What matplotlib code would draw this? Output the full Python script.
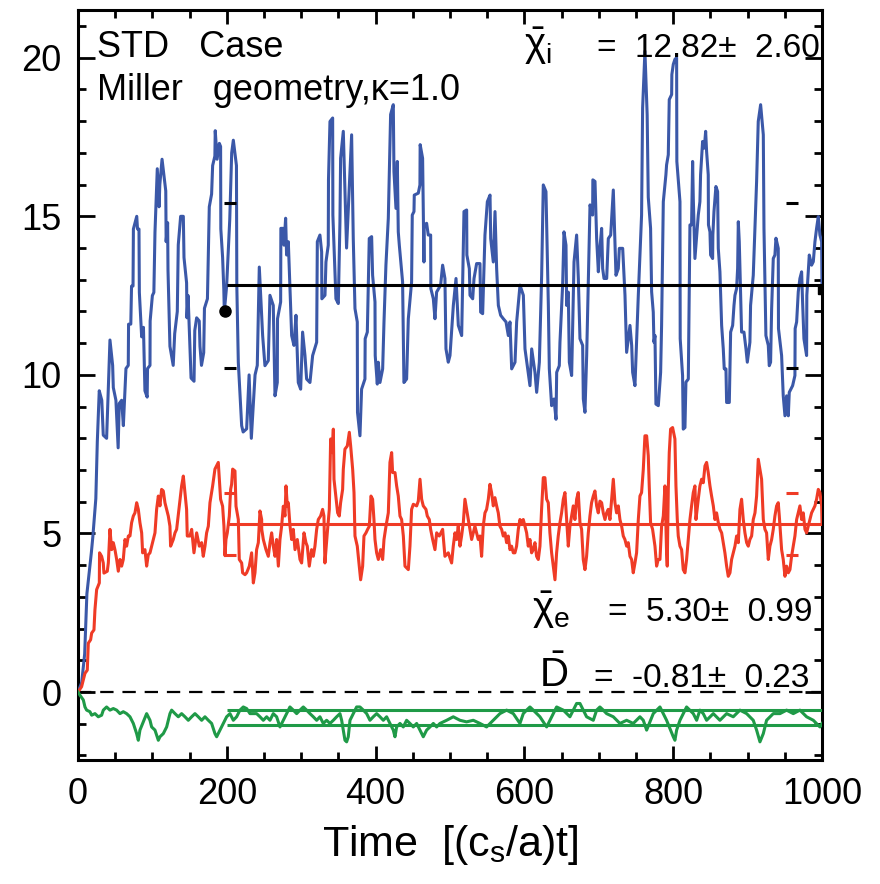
import matplotlib
matplotlib.use("Agg")
import matplotlib.pyplot as plt
from matplotlib.ticker import MultipleLocator
import numpy as np

plt.rcParams['font.family'] = ['Liberation Sans', 'DejaVu Sans']
plt.rcParams['mathtext.fontset'] = 'custom'
plt.rcParams['mathtext.rm'] = 'Liberation Sans'
plt.rcParams['mathtext.it'] = 'Liberation Sans'

# ion heat diffusivity chi_i
chi_i_t = [0, 5, 9, 12, 18, 20, 24, 26, 28.6, 32, 34, 38.5, 43, 46.6, 47.5, 51, 54, 55.5, 58.7, 61,
           64.5, 67.6, 68, 71, 72, 74, 74.5, 79, 80, 82, 82.5, 85.6, 88, 90, 93, 93.5, 96.8, 97, 100, 102,
           103.5, 106.6, 109, 110, 113, 118, 118.5, 120.5, 121, 123.6, 128, 130, 133.5, 134.8, 138, 141.6,
           142.5, 146, 146.5, 148, 152, 156, 157, 159.5, 163, 164, 166, 169, 170, 174, 176.5, 179.6, 181,
           184, 184.5, 187, 190, 191.7, 192, 194.4, 196, 196.7, 199.8, 204, 206.6, 208.8, 213, 213.5,
           215.5, 220, 222, 226.7, 230, 233, 238, 241, 243.7, 248.2, 251.3, 255.8, 258.0, 262.5, 264.8,
           267.9, 268.2, 272.4, 272.7, 276.0, 276.9, 279.1, 280.4, 282.7, 287.2, 290.3, 293.0, 296.1,
           299.3, 301.9, 305.1, 307.3, 311.8, 315.4, 320.8, 321.7, 325.2, 327.5, 327.8, 332.0, 333.3,
           336.4, 336.7, 338.7, 342.3, 342.6, 346.7, 349.9, 352.1, 353.0, 356.6, 361, 367.8, 370.0, 372.3,
           375.4, 375.7, 379.0, 381.2, 385.7, 386.0, 388.9, 391.5, 394.7, 396.0, 399.2, 399.5, 402.3,
           403.6, 405.9, 409.5, 411.3, 413.9, 417.1, 420.2, 423.8, 424.7, 427.4, 429.2, 430.5, 431.9,
           436.3, 438.1, 441.7, 444.0, 448.4, 449.3, 451.6, 452.0, 457.4, 459.6, 459.9, 463.2, 465.0,
           465.3, 468.6, 470.8, 474.0, 474.3, 477.6, 479.8, 482.0, 487.4, 490.1, 493.2, 494.6, 497.7,
           500.0, 504.5, 508.1, 511.2, 515.7, 518.8, 522.4, 522.7, 526.0, 526.9, 530.5, 532.3, 535.8,
           540.3, 541.2, 543.9, 547.0, 550.2, 553.8, 554.7, 558.2, 560.5, 562.7, 565.0, 568.1, 571.7,
           575.3, 578.4, 580.6, 582.9, 587.4, 589.6, 594.1, 598.6, 600.8, 603.9, 607.5, 609.8, 614.2,
           616.5, 620.1, 623.2, 625.4, 629.0, 632.2, 633.5, 636.6, 639.8, 642.5, 643.4, 646.9, 647.8,
           651.4, 653.2, 655.9, 656.8, 659.0, 660.4, 663.5, 666.7, 670.2, 672.5, 674.7, 678.3, 679.2,
           681.4, 683.7, 688.2, 691.7, 692.0, 694.9, 697.1, 699.4, 700.7, 703.8, 705.2, 707.0, 710.6,
           712.8, 716.0, 719.5, 723.1, 726.2, 727.6, 732.1, 735.2, 737.4, 741.9, 744.2, 745.5, 748.6,
           750.9, 753.1, 757.5, 758.9, 762.0, 765.0, 766.5, 769.6, 771.0, 773.2, 774.1, 775.5, 776.8,
           780.0, 783.1, 784.4, 786.7, 790.2, 791.1, 793.4, 794.7, 797.9, 798.2, 800.1, 802.3, 804.6,
           804.9, 809.1, 809.4, 812.6, 813.5, 815.8, 817.1, 820.3, 821.6, 822.5, 824.7, 826.1, 827.0,
           829.2, 830.6, 833.7, 835.9, 836.8, 839.5, 841.8, 843.6, 844.9, 847.1, 847.4, 849.4, 850.3,
           853.0, 853.3, 854.8, 857.4, 859.7, 860.6, 862.8, 865.1, 867.3, 868.6, 870.9, 871.8, 875.4,
           877.2, 879.9, 881.7, 883.0, 885.2, 886.6, 887.5, 888.8, 891.0, 891.9, 895.1, 897.8, 899.6,
           903.1, 904.0, 907.6, 909.9, 912.1, 914.3, 917.5, 921.1, 922.0, 924.6, 927.8, 929.1, 930.9,
           932.3, 934.5, 936.7, 938.1, 941.2, 941.5, 945.7, 947.9, 950.2, 952.4, 954.7, 956.0, 960.5,
           963.6, 963.9, 965.9, 968.1, 970.3, 972.6, 973.9, 975.7, 979.3, 979.6, 982.9, 986.0, 988.3,
           990.5, 992.7, 995.0, 997.2, 999.5, 1000]
chi_i = [0, 0.3, 1.2, 3.1, 4.4, 4.9, 6.1, 7.9, 9.5, 9.2, 8.1, 8.0, 11.1, 10.3, 9.6, 9.2, 7.7, 9.1, 9.2, 8.4,
         10.2, 10.3, 11.6, 11.6, 12.8, 12.8, 14.6, 15.0, 14.6, 14.6, 12.6, 11.2, 11.5, 9.5, 9.3, 10.2, 10.3,
         11.7, 12.5, 12.6, 14.5, 16.5, 15.3, 16.0, 16.8, 15.8, 14.2, 14.8, 13.3, 10.9, 10.3, 11.3, 12.0,
         14.1, 15.0, 15.0, 13.7, 12.9, 11.8, 12.5, 9.9, 9.8, 11.4, 11.8, 11.7, 10.9, 10.3, 10.7, 12.1,
         12.4, 15.3, 15.7, 16.6, 16.9, 17.7, 16.8, 17.3, 17.2, 14.6, 13.7, 12.7, 12.0, 12.8, 14.9, 17.0,
         17.4, 16.6, 12.8, 10.4, 8.4, 8.2, 8.3, 10.0, 8.0, 10.0, 10.3, 13.4, 11.24, 10.29, 10.45, 12.51,
         12.19, 9.34, 9.76, 11.77, 12.3, 14.62, 14.62, 14.09, 14.94, 13.78, 14.2, 11.24, 10.93, 11.88,
         9.76, 9.55, 11.35, 10.61, 9.87, 9.76, 10.61, 11.03, 14.2, 14.41, 13.88, 12.4, 12.51, 13.56, 14.09,
         16.15, 17.99, 18.1, 15.04, 12.4, 12.25, 14.83, 16.83, 17.68, 14.0, 17.57, 14.3, 12.09, 11.67,
         8.82, 8.08, 9.55, 9.87, 11.14, 11.35, 14.3, 14.36, 13.14, 12.3, 10.61, 9.71, 10.4, 9.76, 10.19,
         11.67, 13.46, 14.94, 18.21, 18.52, 16.41, 15.25, 16.73, 14.51, 14.09, 12.93, 9.76, 9.87, 11.77,
         12.93, 15.04, 15.15, 15.67, 15.73, 15.99, 17.26, 16.83, 13.56, 14.72, 14.78, 14.41, 14.41, 12.72,
         12.4, 11.77, 12.61, 12.83, 13.46, 13.04, 10.82, 10.4, 10.61, 12.19, 13.04, 11.56, 11.24, 15.15,
         15.2, 13.78, 13.35, 12.51, 12.4, 13.04, 13.51, 13.51, 11.98, 11.93, 14.41, 15.46, 15.67, 14.3,
         13.56, 15.15, 13.35, 12.19, 11.88, 11.77, 11.67, 11.24, 11.67, 10.19, 10.4, 11.67, 12.83, 12.51,
         10.82, 10.29, 9.66, 10.82, 10.08, 9.45, 10.4, 13.14, 15.99, 15.78, 12.19, 10.19, 9.03, 9.24,
         8.6, 10.08, 10.29, 11.03, 12.83, 14.51, 14.09, 12.19, 12.61, 10.4, 9.98, 13.56, 14.41, 13.04,
         11.14, 10.93, 9.24, 8.82, 10.61, 15.36, 15.04, 16.15, 16.1, 14.3, 13.25, 13.78, 14.62, 13.35,
         13.04, 13.04, 14.3, 14.41, 15.83, 13.14, 13.35, 13.99, 13.99, 12.51, 10.71, 11.56, 10.93, 10.08,
         9.66, 11.14, 12.51, 15.04, 18.42, 20.21, 18.2, 15.6, 14.62, 12.62, 11.98, 11.03, 11.24, 9.08,
         9.03, 10.08, 11.56, 15.46, 16.31, 16.62, 16.94, 18.68, 18.84, 19.47, 19.79, 19.95, 20.0, 16.73,
         15.46, 11.14, 9.98, 8.29, 8.34, 9.77, 9.87, 12.62, 14.73, 14.73, 16.73, 15.57, 13.67, 14.09,
         15.04, 15.46, 16.31, 17.36, 17.15, 17.68, 17.04, 16.31, 14.73, 14.51, 13.78, 13.67, 14.41, 15.15,
         15.94, 15.78, 13.99, 13.25, 11.56, 10.82, 10.19, 10.19, 9.13, 9.13, 11.35, 11.56, 12.19, 12.51,
         12.72, 13.36, 14.83, 14.2, 12.09, 11.35, 11.35, 10.82, 10.4, 11.03, 12.19, 13.14, 14.62, 16.1,
         17.99, 18.52, 17.57, 14.62, 11.24, 10.93, 10.29, 10.4, 12.09, 13.67, 13.78, 14.31, 13.99, 11.46,
         10.61, 9.34, 8.71, 9.34, 8.71, 9.45, 9.66, 9.98, 11.46, 11.67, 12.62, 13.04, 13.25, 12.3, 11.14,
         10.61, 12.51, 13.78, 13.46, 13.57, 14.2, 14.62, 14.99, 14.41, 14.2, 12.8]

# electron heat diffusivity chi_e
chi_e_t = [0, 4.9, 9.4, 12.5, 13.9, 17.0, 18.4, 21.5, 22.8, 25.1, 28.7, 29.0, 31.8, 34.0, 34.9, 39.4, 40.8,
           43.0, 45.3, 47.5, 49.7, 52.0, 54.2, 56.5, 58.7, 60.9, 63.2, 65.4, 67.7, 69.9, 72.1, 74.4, 76.6,
           78.9, 81.1, 83.3, 85.6, 86.9, 90.0, 92.3, 94.5, 96.8, 99.0, 103.5, 105.7, 108.0, 110.2, 112.4,
           114.7, 116.9, 119.2, 121.4, 123.6, 124.5, 128.1, 130.4, 132.6, 136.2, 139.3, 141.6, 143.8,
           146.0, 146.9, 150.5, 152.8, 155.9, 159.5, 163.1, 166.2, 168.4, 170.7, 172.9, 175.2, 177.4,
           181.0, 184.1, 188.6, 191.7, 194.4, 196.2, 197.6, 198.9, 200.7, 203.4, 205.2, 206.5, 207.9,
           211.0, 212.4, 215.5, 216.8, 220.0, 221.3, 224.5, 226.7, 230.3, 233.4, 235.7, 237.9, 240.1,
           242.4, 244.6, 246.9, 247.0, 249.1, 252.7, 255.8, 258.1, 260.3, 262.5, 264.8, 267.0, 269.3,
           271.5, 273.7, 276.0, 278.2, 279.6, 281.4, 282.7, 285.0, 287.2, 289.4, 291.7, 294.8, 298.4,
           300.6, 303.8, 306.4, 308.2, 310.9, 314.0, 316.3, 318.5, 320.8, 323.0, 326.1, 328.8, 330.6,
           331.9, 335.1, 337.8, 339.6, 341.8, 343.2, 344.1, 347.6, 349.0, 351.2, 353.0, 355.7, 356.6,
           358.8, 362.0, 364.7, 366.5, 369.2, 371.0, 372.3, 375.4, 378.1, 379.9, 382.6, 384.4, 387.1,
           389.3, 391.6, 393.8, 396.0, 397.8, 399.2, 401.4, 403.7, 406.8, 409.5, 411.3, 414.0, 417.1,
           419.3, 421.6, 422.9, 426.1, 428.3, 430.5, 432.8, 435.0, 437.3, 439.5, 444.0, 446.2, 448.4,
           450.7, 455.2, 457.4, 459.7, 461.9, 464.1, 467.7, 469.5, 472.2, 474.0, 476.7, 479.8, 482.1,
           485.6, 490.1, 493.2, 497.7, 502.2, 504.4, 506.7, 508.9, 511.1, 513.4, 515.6, 517.9, 520.1,
           522.3, 524.6, 526.8, 529.1, 531.3, 533.5, 535.8, 538.0, 540.3, 542.5, 544.7, 547.0, 549.2,
           551.5, 553.7, 555.9, 558.2, 560.4, 562.7, 564.9, 567.1, 569.4, 571.6, 573.9, 576.1, 578.3,
           580.6, 582.8, 585.1, 587.3, 589.5, 591.8, 594.0, 596.3, 598.5, 603.0, 605.2, 607.5, 609.7,
           611.9, 614.2, 616.4, 618.7, 620.9, 623.1, 625.4, 627.6, 629.9, 632.1, 634.3, 636.6, 638.8,
           641.1, 643.3, 645.5, 647.8, 650.0, 652.3, 654.5, 656.7, 659.0, 661.2, 663.5, 665.7, 667.9,
           670.2, 672.4, 674.7, 676.9, 679.1, 681.4, 683.6, 685.9, 688.1, 690.3, 692.6, 694.8, 697.1,
           699.3, 701.5, 703.8, 706.0, 708.3, 710.5, 712.7, 715.0, 717.2, 719.5, 721.7, 723.9, 726.2,
           728.4, 730.7, 732.9, 735.1, 737.4, 739.6, 741.9, 744.1, 746.3, 748.6, 750.8, 753.1, 755.3,
           757.5, 759.8, 762.0, 764.3, 766.5, 767.8, 769.6, 772.3, 775.5, 777.7, 779.9, 782.2, 784.4,
           786.7, 788.9, 791.1, 792.0, 793.4, 794.7, 796.5, 799.2, 802.3, 803.7, 805.5, 806.8, 809.1,
           811.3, 813.5, 815.8, 818.0, 820.3, 822.5, 824.7, 827.0, 829.2, 830.6, 833.7, 835.9, 838.2,
           840.4, 842.7, 844.9, 847.1, 849.4, 851.6, 853.9, 856.1, 858.3, 860.6, 862.8, 865.1, 867.3,
           869.5, 871.8, 874.0, 876.3, 878.5, 880.7, 883.0, 885.2, 887.5, 889.7, 891.9, 894.2, 896.4,
           898.7, 900.9, 903.1, 905.4, 907.6, 909.9, 912.1, 914.3, 916.6, 918.8, 921.1, 923.3, 925.5,
           927.8, 930.0, 932.3, 934.5, 936.7, 939.0, 941.2, 942.6, 945.7, 947.9, 950.2, 952.4, 954.7,
           956.9, 959.1, 961.4, 963.6, 965.9, 968.1, 970.3, 972.6, 974.8, 977.1, 979.3, 981.5, 983.8,
           986.0, 988.3, 990.5, 992.7, 995.0, 997.2, 999.5, 1000]
chi_e = [0, 0.17, 0.59, 0.69, 1.54, 1.65, 1.86, 1.96, 2.59, 3.23, 3.44, 4.39, 4.28, 4.07, 3.75, 3.81, 4.07,
         5.13, 4.49, 4.71, 4.49, 4.18, 3.81, 4.18, 3.97, 4.18, 4.81, 4.60, 4.92, 4.92, 5.34, 5.55, 5.65,
         5.97, 5.76, 5.34, 5.02, 4.39, 4.49, 3.97, 4.33, 4.39, 4.60, 5.02, 5.76, 6.18, 5.87, 6.39, 6.34,
         5.97, 5.76, 5.55, 5.23, 4.60, 4.81, 5.02, 5.13, 5.87, 6.50, 6.81, 6.29, 5.76, 4.92, 4.92, 5.13,
         4.39, 5.02, 4.60, 4.71, 4.28, 4.60, 5.02, 5.23, 5.97, 6.50, 7.03, 7.24, 6.08, 5.86, 5.23, 4.30,
         4.81, 5.02, 5.55, 6.39, 6.55, 7.03, 6.97, 5.86, 5.44, 4.18, 4.07, 3.76, 3.70, 3.76, 3.97, 4.39,
         3.44, 3.76, 4.49, 4.71, 5.71, 5.44, 5.13, 4.81, 4.49, 4.28, 4.71, 5.02, 4.60, 4.28, 4.81, 3.97,
         4.81, 5.23, 5.86, 5.55, 6.50, 5.86, 5.97, 5.23, 4.81, 5.13, 4.49, 4.81, 4.18, 4.07, 5.02, 4.71,
         4.60, 3.97, 4.49, 4.28, 4.60, 5.13, 5.44, 5.55, 5.76, 5.55, 4.07, 5.02, 5.76, 7.98, 7.55, 8.29,
         6.71, 5.97, 5.65, 5.55, 5.97, 6.39, 7.02, 7.66, 7.76, 8.19, 7.76, 7.02, 6.29, 4.92, 4.60, 3.97,
         3.54, 3.97, 4.92, 5.02, 5.13, 5.23, 6.18, 6.08, 5.44, 4.81, 4.39, 4.18, 4.49, 4.18, 4.81, 5.23,
         5.65, 7.24, 7.55, 6.92, 6.92, 6.50, 6.18, 5.55, 5.44, 4.92, 3.97, 3.86, 4.60, 5.76, 5.92, 5.87,
         6.02, 6.71, 6.08, 5.87, 5.76, 5.55, 5.44, 5.13, 4.81, 4.49, 5.02, 4.92, 5.13, 4.28, 4.39, 4.07,
         4.60, 5.02, 4.81, 5.23, 4.60, 4.92, 5.34, 6.08, 5.76, 5.44, 5.13, 4.81, 5.02, 5.23, 5.02, 4.81,
         4.92, 4.28, 5.23, 5.65, 5.76, 6.08, 6.55, 6.29, 5.87, 6.13, 5.87, 5.65, 5.23, 5.13, 4.92, 5.02,
         4.71, 4.92, 4.49, 4.60, 4.39, 4.39, 4.60, 5.13, 5.44, 5.34, 5.44, 5.02, 4.60, 4.81, 4.39, 4.49,
         4.71, 4.28, 4.18, 4.60, 5.76, 6.76, 6.76, 6.08, 5.97, 5.02, 4.39, 3.97, 3.54, 4.39, 4.92, 5.34,
         5.65, 6.08, 6.29, 5.44, 4.60, 5.23, 5.55, 5.87, 5.44, 6.08, 6.29, 5.34, 5.13, 4.18, 3.86, 4.28,
         5.02, 5.55, 5.97, 6.18, 6.34, 5.87, 5.65, 6.02, 5.97, 5.65, 5.44, 5.65, 5.76, 5.44, 6.08, 6.71,
         5.97, 5.65, 5.87, 5.44, 5.23, 4.92, 4.81, 4.60, 4.71, 4.28, 4.18, 3.76, 4.07, 4.39, 5.44, 6.18,
         6.29, 7.02, 8.08, 8.08, 7.45, 6.50, 5.34, 5.13, 4.60, 3.97, 4.18, 4.18, 5.23, 5.55, 6.50, 4.39,
         3.97, 6.39, 7.55, 8.29, 8.34, 7.98, 6.50, 5.44, 4.92, 4.60, 4.49, 3.86, 3.76, 4.18, 4.81, 5.44,
         5.87, 6.29, 6.50, 5.44, 6.08, 6.50, 6.71, 6.60, 7.13, 7.24, 6.92, 6.50, 6.18, 5.87, 5.44, 5.65,
         5.34, 5.13, 5.02, 4.71, 4.39, 3.97, 3.65, 3.76, 4.18, 4.39, 4.60, 4.92, 4.71, 5.76, 6.08, 5.44,
         5.02, 4.71, 4.60, 4.81, 4.92, 5.44, 5.65, 6.18, 7.34, 7.02, 6.71, 5.44, 5.13, 5.02, 4.18, 4.60,
         4.81, 5.13, 5.55, 5.87, 5.97, 5.55, 4.49, 4.18, 3.65, 3.97, 3.76, 3.86, 4.28, 4.60, 4.92, 5.44,
         5.65, 5.87, 5.44, 5.65, 5.13, 5.02, 5.23, 5.44, 5.65, 5.76, 5.87, 6.08, 6.39, 6.29, 5.87, 5.34]

# particle diffusivity D
d_t = [0, 2.7, 7.2, 9.4, 11.65, 16.1, 18.4, 22.85, 27.3, 31.8, 34.05, 38.5, 43.0, 47.5, 52.0, 56.45, 60.9,
       65.4, 69.9, 74.4, 78.85, 81.1, 83.3, 87.8, 92.3, 96.8, 99.0, 103.5, 108.0, 110.2, 114.7, 119.2,
       121.4, 123.65, 125.9, 130.4, 134.85, 139.3, 143.8, 148.3, 152.8, 157.25, 161.7, 166.2, 170.7,
       175.2, 179.65, 184.1, 186.4, 190.85, 195.3, 199.8, 204.3, 208.8, 213.25, 217.7, 222.2, 226.7,
       231.2, 235.65, 240.1, 244.6, 249.1, 253.6, 258.05, 262.5, 267.0, 271.5, 276.0, 280.45, 284.9,
       289.4, 293.9, 298.4, 302.85, 307.3, 311.8, 316.3, 320.8, 325.25, 329.7, 334.2, 338.7, 343.2,
       347.65, 352.1, 354.4, 356.6, 358.85, 361.1, 363.3, 365.6, 370.05, 374.5, 379.0, 383.5, 388.0,
       392.45, 396.9, 401.4, 405.9, 410.4, 414.85, 419.3, 423.8, 426.05, 428.3, 432.8, 437.25, 441.7,
       446.2, 450.7, 455.2, 459.65, 464.1, 468.6, 473.1, 477.6, 482.05, 486.5, 495.5, 504.4, 513.4,
       522.3, 531.3, 540.3, 549.2, 558.2, 567.1, 576.1, 585.1, 594.0, 598.5, 603.0, 607.5, 611.9, 620.9,
       629.9, 638.8, 643.3, 652.3, 661.2, 670.2, 674.7, 679.1, 683.6, 692.6, 697.1, 701.5, 706.0, 710.5,
       719.5, 728.4, 737.4, 746.3, 755.3, 759.8, 764.3, 773.2, 782.2, 791.1, 800.1, 802.3, 804.6, 809.1,
       818.0, 827.0, 831.5, 835.9, 840.4, 844.9, 853.9, 862.8, 871.8, 880.7, 889.7, 898.7, 907.6, 912.1,
       916.6, 921.1, 925.5, 934.5, 943.5, 952.4, 961.4, 970.3, 979.3, 988.3, 997.2, 1000]
d_val = [0, -0.10, -0.25, -0.47, -0.57, -0.62, -0.73, -0.68, -0.78, -0.73, -0.57, -0.47, -0.57, -0.52,
         -0.57, -0.68, -0.62, -0.68, -0.78, -0.99, -1.31, -1.52, -1.20, -0.94, -0.68, -0.89, -1.10, -1.20,
         -1.52, -1.41, -1.31, -1.10, -0.89, -0.68, -0.57, -0.68, -0.78, -0.68, -0.78, -0.89, -0.78, -0.68,
         -0.78, -0.89, -0.78, -0.89, -0.99, -1.31, -1.41, -1.20, -0.99, -0.78, -0.68, -0.89, -0.78, -0.57,
         -0.47, -0.52, -0.68, -0.68, -0.68, -0.78, -0.89, -0.78, -0.89, -0.68, -0.78, -1.10, -0.89, -0.68,
         -0.47, -0.57, -0.68, -0.57, -0.47, -0.57, -0.68, -0.78, -0.89, -0.78, -0.99, -0.89, -0.99, -0.89,
         -0.78, -0.68, -0.89, -1.20, -1.52, -1.57, -1.41, -0.89, -0.68, -0.47, -0.47, -0.57, -0.68, -0.89,
         -0.78, -0.68, -0.78, -0.89, -0.78, -0.99, -1.20, -1.41, -1.10, -0.99, -1.10, -0.89, -0.99, -1.10,
         -0.99, -1.20, -1.41, -1.20, -1.10, -0.99, -1.10, -0.99, -0.89, -0.78, -0.89, -0.94, -0.89, -0.99,
         -1.10, -0.89, -0.68, -0.57, -0.68, -0.99, -0.68, -0.57, -0.47, -0.57, -0.78, -1.10, -0.68, -0.47,
         -0.57, -0.78, -0.36, -0.36, -0.57, -0.78, -0.89, -0.57, -0.47, -0.57, -0.68, -0.78, -0.99, -0.89,
         -0.99, -0.78, -0.89, -1.20, -0.68, -0.47, -0.89, -1.41, -1.52, -1.20, -0.89, -0.47, -0.68, -0.89,
         -0.57, -0.68, -0.89, -0.68, -0.89, -0.68, -0.78, -0.57, -0.68, -0.89, -1.20, -1.57, -1.31, -0.89,
         -0.68, -0.68, -0.57, -0.68, -0.57, -0.78, -0.89, -1.10, -0.99]

# time averages over t >= 200 and their standard deviations
t_avg = (200, 1000)
chi_i_mean, chi_i_std = 12.82, 2.60
chi_e_mean, chi_e_std = 5.30, 0.99
d_mean, d_std = -0.81, 0.23
sigma_marks_t = [205, 960]

blue = '#3b58a8'
red = '#ef3b26'
green = '#1f9a47'

fig = plt.figure(figsize=(8.8, 8.84), dpi=100)
ax = fig.add_axes([0.0886, 0.140, 0.8455, 0.8485])

ax.plot(chi_i_t, chi_i, color=blue, lw=2.2, zorder=3)
ax.plot(chi_e_t, chi_e, color=red, lw=2.2, zorder=3)
ax.plot(d_t, d_val, color=green, lw=2.2, zorder=3)

ax.axhline(0, color='black', lw=1.6, ls=(0, (6, 4)), zorder=2)

# averages
ax.hlines(chi_i_mean, *t_avg, color='black', lw=2.2, zorder=4)
ax.hlines(chi_e_mean, *t_avg, color=red, lw=2.2, zorder=4)
ax.hlines([d_mean + d_std, d_mean - d_std], *t_avg, color=green, lw=2.2, zorder=4)

for tm in sigma_marks_t:
    ax.plot([tm, tm], [chi_i_mean + chi_i_std, chi_i_mean - chi_i_std], ls='none',
            marker='_', ms=9, mew=2.2, color='black', zorder=4)
    ax.plot([tm, tm], [chi_e_mean + chi_e_std, chi_e_mean - chi_e_std], ls='none',
            marker='_', ms=9, mew=2.2, color=red, zorder=4)

ax.plot([t_avg[0] - 3], [12.0], marker='o', ms=8, color='black', zorder=5)
ax.plot([t_avg[1]], [chi_i_mean - 0.15], marker='s', ms=6, color='black', zorder=5)

ax.set_xlim(0, 1000)
ax.set_ylim(-2.15, 21.5)

ax.xaxis.set_major_locator(MultipleLocator(200))
ax.xaxis.set_minor_locator(MultipleLocator(50))
ax.yaxis.set_major_locator(MultipleLocator(5))
ax.yaxis.set_minor_locator(MultipleLocator(1))
ax.tick_params(which='both', direction='in', top=True, right=True, width=2, labelsize=26)
ax.tick_params(which='major', length=10, pad=12)
ax.tick_params(which='minor', length=6)
ax.tick_params(axis='y', which='major', length=12)
for s in ax.spines.values():
    s.set_linewidth(2.2)

ax.set_xlabel('Time  [(c$_\\mathrm{s}$/a)t]', fontsize=31, labelpad=8)

ax.text(0.026, 0.937, 'STD   Case', transform=ax.transAxes, fontsize=26)
ax.text(0.026, 0.880, 'Miller   geometry,\u03ba=1.0', transform=ax.transAxes, fontsize=26)

ax.text(0.60, 0.937, r'$\bar{\chi}_\mathrm{i}$', transform=ax.transAxes, fontsize=29)
ax.text(0.698, 0.937, '=  12.82\u00b1  2.60', transform=ax.transAxes, fontsize=24)
ax.text(0.61, 0.185, r'$\bar{\chi}_\mathrm{e}$', transform=ax.transAxes, fontsize=29)
ax.text(0.712, 0.185, '=  5.30\u00b1  0.99', transform=ax.transAxes, fontsize=24)
ax.text(0.62, 0.097, r'$\bar{\mathrm{D}}$', transform=ax.transAxes, fontsize=29)
ax.text(0.694, 0.097, '=  -0.81\u00b1  0.23', transform=ax.transAxes, fontsize=24)

fig.savefig('out.png', dpi=100)
